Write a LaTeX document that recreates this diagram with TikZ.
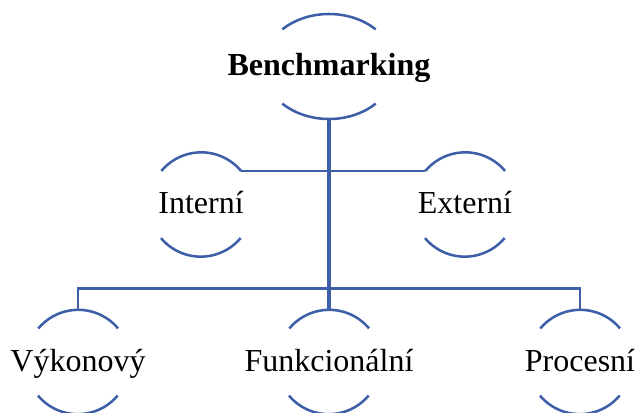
\documentclass[tikz,border=0pt]{standalone}
\usepackage{fontspec}
\setmainfont{Liberation Serif}
\usepackage{tikz}
\usetikzlibrary{shapes.geometric, positioning}
\definecolor{dblue}{RGB}{60,95,168}
\tikzset{
    ring/.style={circle, minimum size=78pt, inner sep=0pt},
    oval/.style={ellipse, minimum width=99pt, minimum height=78.75pt, inner sep=0pt},
    txt/.style={font=\fontsize{24}{28}\selectfont, text height=18.5pt, text depth=4.5pt, inner sep=0pt},
    wire/.style={draw=dblue, line width=1.9pt},
    trunk/.style={draw=dblue, line width=2.5pt}
}

\begin{document}
\begin{tikzpicture}[x=0.75pt, y=0.75pt]
    \useasboundingbox (0, 0) rectangle (637, 412);
    \node[oval, label={[txt, font=\fontsize{24}{28}\selectfont\bfseries]center:Benchmarking}] (bm) at (329, 345.5) {};
    \node[ring, label={[txt]center:Interní}] (int) at (201, 207.5) {};
    \node[ring, label={[txt]center:Externí}] (ext) at (465, 207.5) {};
    \node[ring, label={[txt]center:Výkonový}] (vyk) at (78, 50) {};
    \node[ring, label={[txt]center:Funkcionální}] (fun) at (329, 50) {};
    \node[ring, label={[txt]center:Procesní}] (pro) at (580, 50) {};
    \coordinate (bar) at (329, 123.7);
    \draw[wire] ([shift={(45:66 and 52.5)}]bm.center) arc[start angle=45, end angle=135, x radius=66, y radius=52.5];
    \draw[wire] ([shift={(225:66 and 52.5)}]bm.center) arc[start angle=225, end angle=315, x radius=66, y radius=52.5];
    \foreach \n in {int, ext, vyk, fun, pro} {
        \draw[wire] (\n.40) arc[start angle=40, end angle=140, radius=52];
        \draw[wire] (\n.220) arc[start angle=220, end angle=320, radius=52];
    }
    \draw[wire] (int.40) -- (ext.140);
    \draw[wire] (vyk.north) |- (bar) -| (pro.north);
    \draw[trunk] (bm.south) -- (fun.north);
\end{tikzpicture}
\end{document}
